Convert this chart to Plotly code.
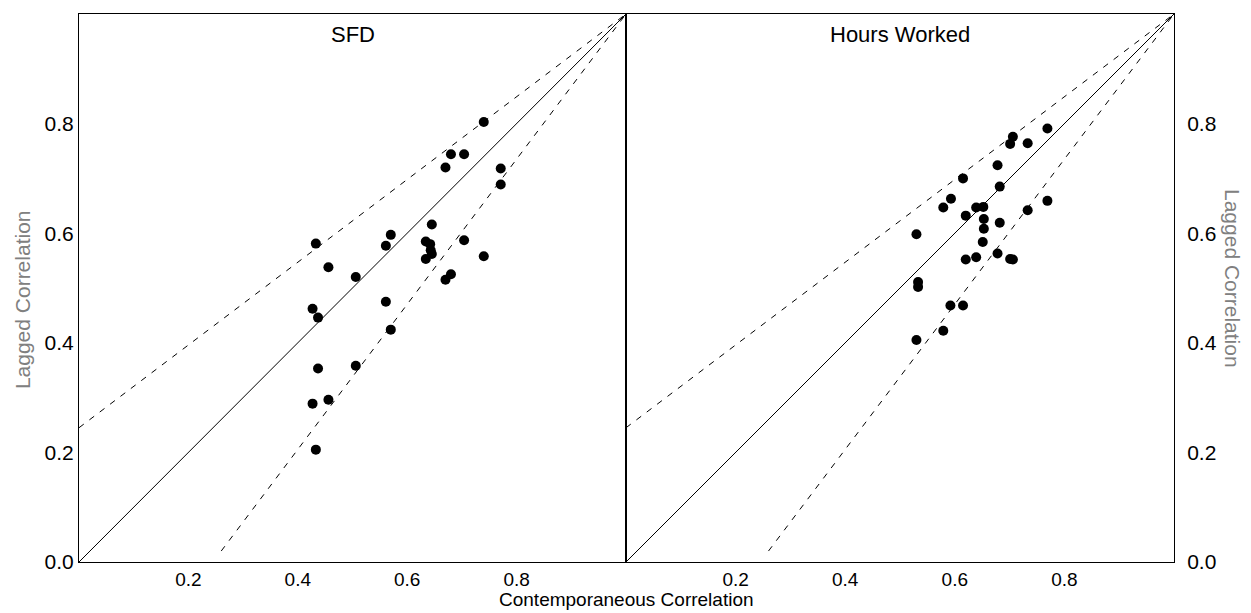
import plotly.graph_objects as go

# ---------------- data ----------------
sfd_x = [0.740, 0.680, 0.704, 0.670, 0.771, 0.771, 0.645, 0.570, 0.433, 0.561,
         0.634, 0.642, 0.643, 0.645, 0.634, 0.704, 0.740, 0.456, 0.506, 0.680,
         0.670, 0.427, 0.437, 0.561, 0.570, 0.437, 0.506, 0.427, 0.456, 0.433]
sfd_y = [0.803, 0.744, 0.744, 0.720, 0.718, 0.689, 0.616, 0.597, 0.581, 0.577,
         0.585, 0.580, 0.569, 0.562, 0.553, 0.587, 0.558, 0.538, 0.520, 0.525,
         0.515, 0.462, 0.446, 0.475, 0.424, 0.353, 0.358, 0.289, 0.296, 0.205]

hw_x = [0.769, 0.706, 0.701, 0.733, 0.678, 0.615, 0.682, 0.593, 0.579, 0.639,
        0.652, 0.620, 0.653, 0.682, 0.733, 0.769, 0.653, 0.530, 0.651, 0.678,
        0.639, 0.620, 0.701, 0.706, 0.533, 0.533, 0.592, 0.615, 0.579, 0.530]
hw_y = [0.791, 0.776, 0.763, 0.764, 0.724, 0.700, 0.685, 0.663, 0.647, 0.647,
        0.648, 0.632, 0.626, 0.619, 0.642, 0.659, 0.608, 0.598, 0.584, 0.563,
        0.556, 0.552, 0.553, 0.552, 0.511, 0.502, 0.468, 0.468, 0.422, 0.405]

panel_titles = ["SFD", "Hours Worked"]

# reference lines
diag_x = [0.0, 1.0]
diag_y = [0.0, 1.0]
upper_x = [0.0, 1.0]
upper_y = [0.245, 1.0]
lower_x = [0.26, 1.0]
lower_y = [0.02, 1.0]

x_tickvals = [0.2, 0.4, 0.6, 0.8]
x_ticktext = ["0.2", "0.4", "0.6", "0.8"]
y_tickvals = [0.0, 0.2, 0.4, 0.6, 0.8]
y_ticktext = ["0.0", "0.2", "0.4", "0.6", "0.8"]

FONT = "Liberation Sans, Arial, sans-serif"
YTICKSIZE = 21
XTICKSIZE = 19

fig = go.Figure()

panels = [(sfd_x, sfd_y, "x", "y"), (hw_x, hw_y, "x2", "y2")]
for px, py, xa, ya in panels:
    fig.add_trace(go.Scatter(x=diag_x, y=diag_y, mode="lines",
                             line=dict(color="black", width=1),
                             xaxis=xa, yaxis=ya, showlegend=False, hoverinfo="skip"))
    fig.add_trace(go.Scatter(x=upper_x, y=upper_y, mode="lines",
                             line=dict(color="black", width=1, dash="6px,7px"),
                             xaxis=xa, yaxis=ya, showlegend=False, hoverinfo="skip"))
    fig.add_trace(go.Scatter(x=lower_x, y=lower_y, mode="lines",
                             line=dict(color="black", width=1, dash="6px,7px"),
                             xaxis=xa, yaxis=ya, showlegend=False, hoverinfo="skip"))
    fig.add_trace(go.Scatter(x=px, y=py, mode="markers",
                             marker=dict(color="black", size=10),
                             xaxis=xa, yaxis=ya, showlegend=False))

split = 547 / 1095

axis_common = dict(range=[0, 1], showgrid=False, zeroline=False,
                   showline=True, linecolor="black", linewidth=1, mirror=True,
                   ticks="")
xfont = dict(family=FONT, size=XTICKSIZE, color="black")
yfont = dict(family=FONT, size=YTICKSIZE, color="black")

fig.update_layout(
    width=1243, height=605,
    margin=dict(l=71, r=77, t=6, b=51),
    paper_bgcolor="white", plot_bgcolor="white",
    font=dict(family=FONT, color="black"),
    xaxis=dict(domain=[0, split], tickvals=x_tickvals, ticktext=x_ticktext,
               anchor="y", tickfont=xfont, **axis_common),
    yaxis=dict(domain=[0, 1], tickvals=y_tickvals, ticktext=y_ticktext,
               anchor="x", side="left", tickfont=yfont, **axis_common),
    xaxis2=dict(domain=[split, 1], tickvals=x_tickvals, ticktext=x_ticktext,
                anchor="y2", tickfont=xfont, **axis_common),
    yaxis2=dict(domain=[0, 1], tickvals=y_tickvals, ticktext=y_ticktext,
                anchor="x2", side="right", ticklabelstandoff=8, tickfont=yfont,
                **axis_common),
)

annotations = []
for i, t in enumerate(panel_titles):
    xr = "x domain" if i == 0 else "x2 domain"
    yr = "y domain" if i == 0 else "y2 domain"
    annotations.append(dict(text=t, xref=xr, yref=yr, x=0.5, y=0.962,
                            showarrow=False, xanchor="center", yanchor="middle",
                            font=dict(family=FONT, size=22, color="black")))
annotations.append(dict(text="Contemporaneous Correlation", xref="paper", yref="paper",
                        x=0.5, y=-0.0895, showarrow=False, xanchor="center",
                        yanchor="bottom", borderpad=0,
                        font=dict(family=FONT, size=19, color="black")))
annotations.append(dict(text="Lagged Correlation", xref="paper", yref="paper",
                        x=-0.052, y=0.478, showarrow=False, textangle=-90,
                        xanchor="center", yanchor="middle",
                        font=dict(family=FONT, size=21, color="#808080")))
annotations.append(dict(text="Lagged Correlation", xref="paper", yref="paper",
                        x=1.054, y=0.518, showarrow=False, textangle=90,
                        xanchor="center", yanchor="middle",
                        font=dict(family=FONT, size=21, color="#808080")))
fig.update_layout(annotations=annotations)

fig.write_html("out.html")
